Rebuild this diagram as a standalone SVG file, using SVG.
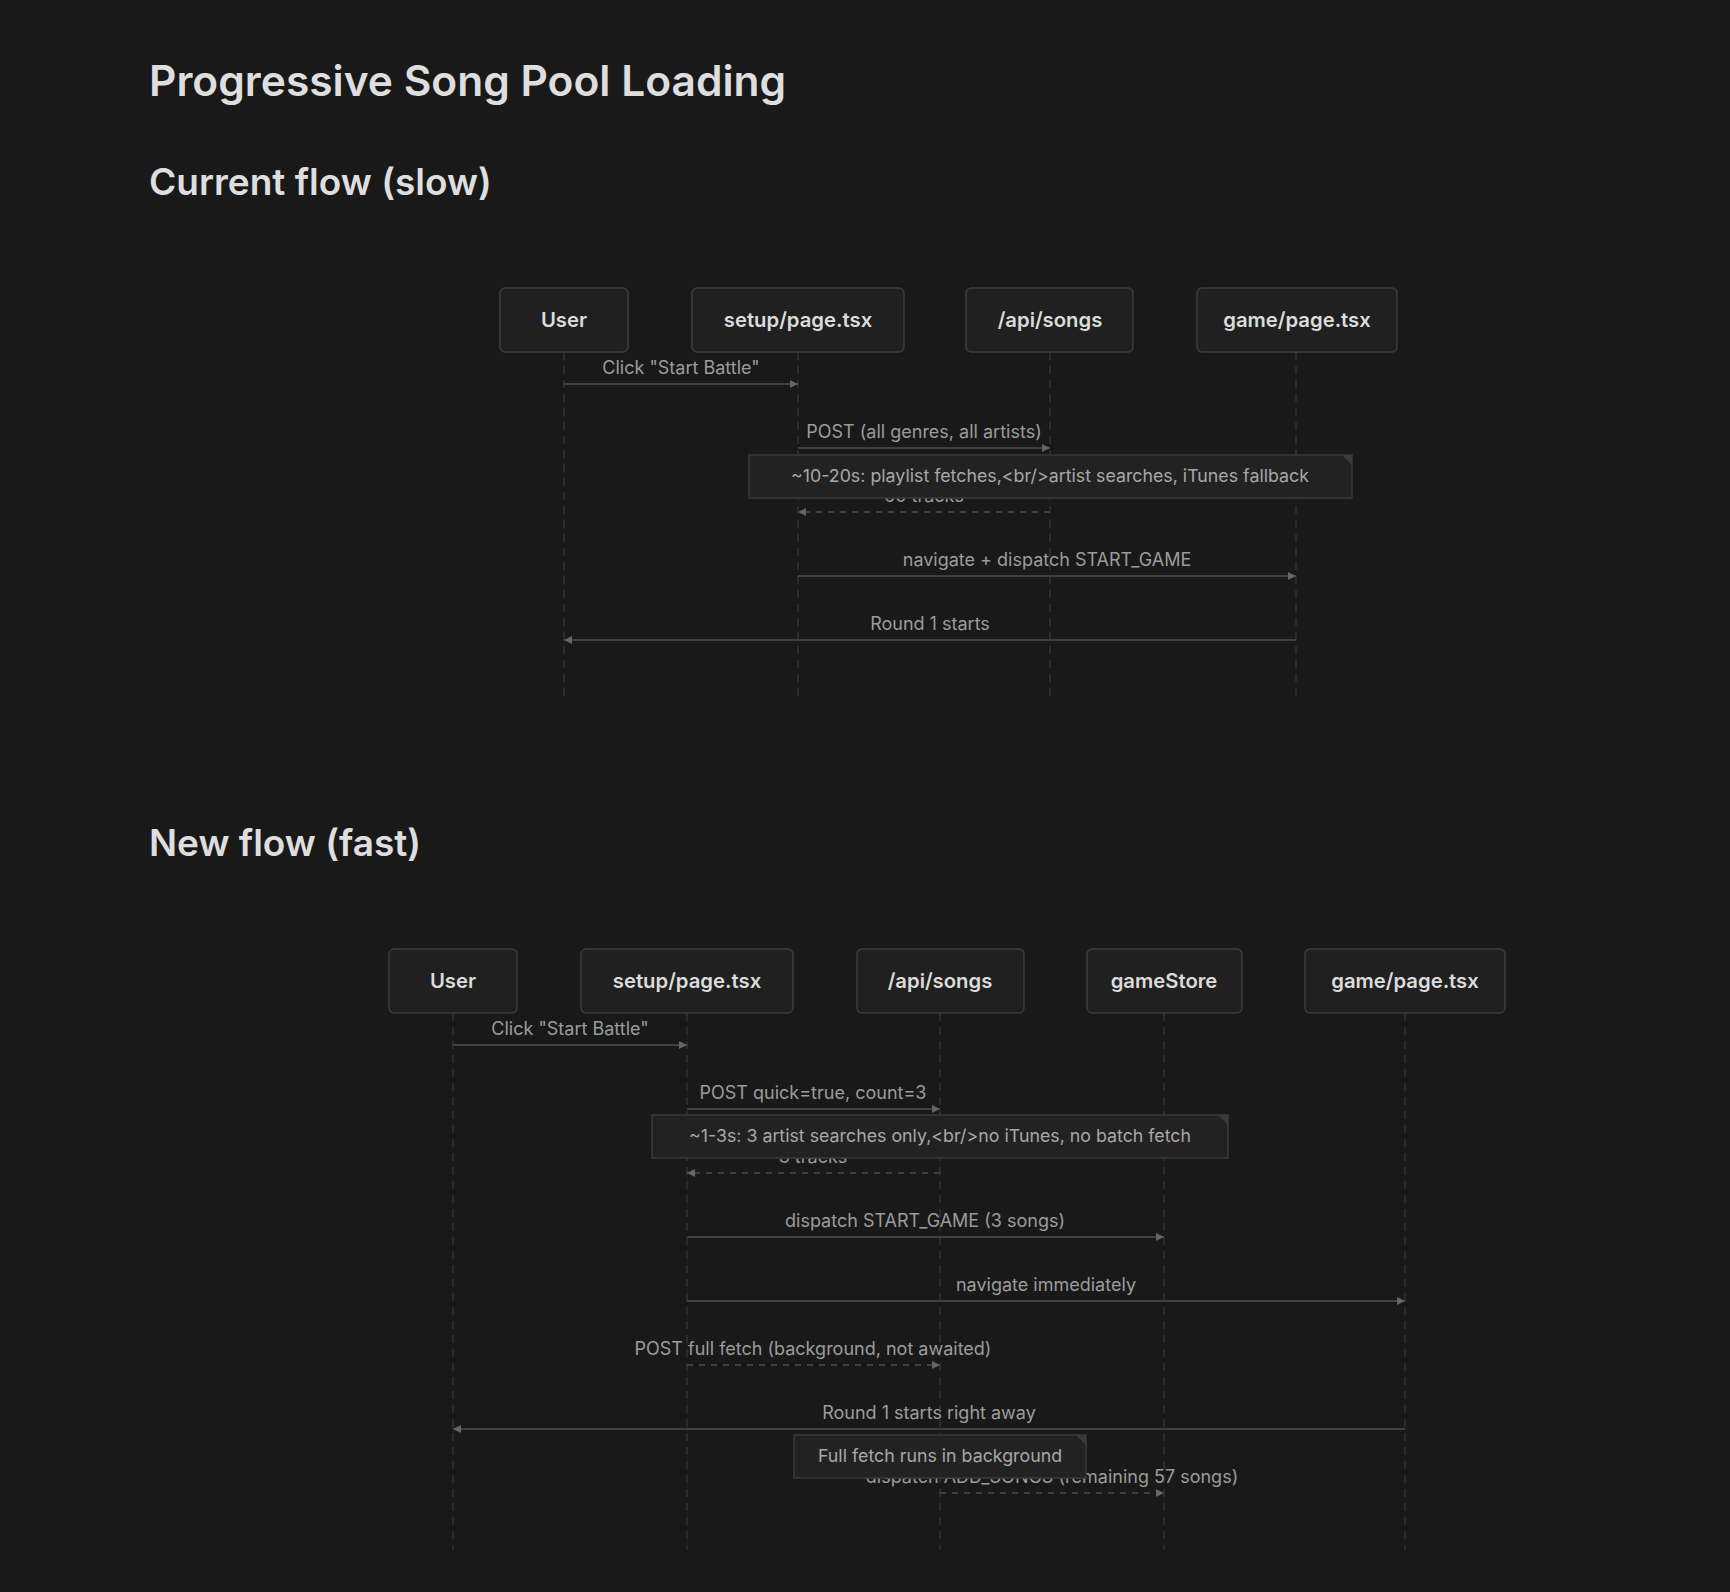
<svg xmlns="http://www.w3.org/2000/svg" width="1730" height="1592" viewBox="0 0 1730 1592">
<defs>
<style>
.bg{fill:#191919}
.h1{font-family:Inter,"Noto Sans",sans-serif;font-size:42.5px;font-weight:600;fill:#dedede}
.h2{font-family:Inter,"Noto Sans",sans-serif;font-size:37px;font-weight:600;fill:#dedede}
.box{fill:#202020;stroke:#3c3c3c;stroke-width:1.5}
.bt{font-family:Inter,"Noto Sans",sans-serif;font-size:20.3px;font-weight:600;fill:#dcdcdc;text-anchor:middle}
.life{stroke:#333;stroke-width:1.5;stroke-dasharray:8 6;fill:none}
.msg{stroke:#404040;stroke-width:2;fill:none}
.dash{stroke-dasharray:6 6}
.ml{font-family:Inter,"Noto Sans",sans-serif;font-size:18px;fill:#9c9c9c;text-anchor:middle}
.note{fill:#222;stroke:#3a3a3a;stroke-width:1.5}
.fold{fill:#3a3a3a}
.nt{font-family:Inter,"Noto Sans",sans-serif;font-size:17.8px;fill:#a8a8a8;text-anchor:middle}
</style>
<marker id="ah" viewBox="0 0 10 10" refX="10" refY="5" markerWidth="9" markerHeight="8" markerUnits="userSpaceOnUse" orient="auto">
<path d="M0,0 L10,5 L0,10 z" fill="#666"/>
</marker>
</defs>
<rect class="bg" x="0" y="0" width="1730" height="1592"/>
<text class="h1" x="149" y="96">Progressive Song Pool Loading</text>
<text class="h2" x="149" y="195">Current flow (slow)</text>
<text class="h2" x="149" y="856">New flow (fast)</text>

<g id="d1-lifelines">
<line class="life" x1="564" y1="352" x2="564" y2="697"/>
<line class="life" x1="798" y1="352" x2="798" y2="697"/>
<line class="life" x1="1050" y1="352" x2="1050" y2="697"/>
<line class="life" x1="1296" y1="352" x2="1296" y2="697"/>
</g>
<g id="d1-user"><rect class="box" x="500" y="288" width="128" height="64" rx="5"/><text class="bt" x="564" y="327">User</text></g>
<g id="d1-setup"><rect class="box" x="692" y="288" width="212" height="64" rx="5"/><text class="bt" x="798" y="327">setup/page.tsx</text></g>
<g id="d1-api"><rect class="box" x="966" y="288" width="167" height="64" rx="5"/><text class="bt" x="1050" y="327">/api/songs</text></g>
<g id="d1-game"><rect class="box" x="1197" y="288" width="200" height="64" rx="5"/><text class="bt" x="1297" y="327">game/page.tsx</text></g>

<g id="d1-connectors">
<line class="msg" x1="564" y1="384" x2="798" y2="384" marker-end="url(#ah)"/>
<text class="ml" x="681" y="374">Click "Start Battle"</text>
<line class="msg" x1="798" y1="448" x2="1050" y2="448" marker-end="url(#ah)"/>
<text class="ml" x="924" y="438">POST (all genres, all artists)</text>
<line class="msg dash" x1="1050" y1="512" x2="798" y2="512" marker-end="url(#ah)"/>
<text class="ml" x="924" y="502">60 tracks</text>
<line class="msg" x1="798" y1="576" x2="1296" y2="576" marker-end="url(#ah)"/>
<text class="ml" x="1047" y="566">navigate + dispatch START_GAME</text>
<line class="msg" x1="1296" y1="640" x2="564" y2="640" marker-end="url(#ah)"/>
<text class="ml" x="930" y="630">Round 1 starts</text>
</g>
<g id="d1-note">
<rect class="note" x="749" y="455" width="603" height="43"/>
<path class="fold" d="M1342,455 L1352,465 L1352,455 z"/>
<text class="nt" x="1050" y="482">~10-20s: playlist fetches,&lt;br/&gt;artist searches, iTunes fallback</text>
</g>

<g id="d2-lifelines">
<line class="life" x1="453" y1="1013" x2="453" y2="1550"/>
<line class="life" x1="687" y1="1013" x2="687" y2="1550"/>
<line class="life" x1="940" y1="1013" x2="940" y2="1550"/>
<line class="life" x1="1164" y1="1013" x2="1164" y2="1550"/>
<line class="life" x1="1405" y1="1013" x2="1405" y2="1550"/>
</g>
<g id="d2-user"><rect class="box" x="389" y="949" width="128" height="64" rx="5"/><text class="bt" x="453" y="988">User</text></g>
<g id="d2-setup"><rect class="box" x="581" y="949" width="212" height="64" rx="5"/><text class="bt" x="687" y="988">setup/page.tsx</text></g>
<g id="d2-api"><rect class="box" x="857" y="949" width="167" height="64" rx="5"/><text class="bt" x="940" y="988">/api/songs</text></g>
<g id="d2-store"><rect class="box" x="1087" y="949" width="155" height="64" rx="5"/><text class="bt" x="1164" y="988">gameStore</text></g>
<g id="d2-game"><rect class="box" x="1305" y="949" width="200" height="64" rx="5"/><text class="bt" x="1405" y="988">game/page.tsx</text></g>

<g id="d2-connectors">
<line class="msg" x1="453" y1="1045" x2="687" y2="1045" marker-end="url(#ah)"/>
<text class="ml" x="570" y="1035">Click "Start Battle"</text>
<line class="msg" x1="687" y1="1109" x2="940" y2="1109" marker-end="url(#ah)"/>
<text class="ml" x="813" y="1099">POST quick=true, count=3</text>
<line class="msg dash" x1="940" y1="1173" x2="687" y2="1173" marker-end="url(#ah)"/>
<text class="ml" x="813" y="1163">3 tracks</text>
<line class="msg" x1="687" y1="1237" x2="1164" y2="1237" marker-end="url(#ah)"/>
<text class="ml" x="925" y="1227">dispatch START_GAME (3 songs)</text>
<line class="msg" x1="687" y1="1301" x2="1405" y2="1301" marker-end="url(#ah)"/>
<text class="ml" x="1046" y="1291">navigate immediately</text>
<line class="msg dash" x1="687" y1="1365" x2="940" y2="1365" marker-end="url(#ah)"/>
<text class="ml" x="813" y="1355">POST full fetch (background, not awaited)</text>
<line class="msg" x1="1405" y1="1429" x2="453" y2="1429" marker-end="url(#ah)"/>
<text class="ml" x="929" y="1419">Round 1 starts right away</text>
<line class="msg dash" x1="940" y1="1493" x2="1164" y2="1493" marker-end="url(#ah)"/>
<text class="ml" x="1052" y="1483">dispatch ADD_SONGS (remaining 57 songs)</text>
</g>
<g id="d2-note1">
<rect class="note" x="652" y="1115" width="576" height="43"/>
<path class="fold" d="M1218,1115 L1228,1125 L1228,1115 z"/>
<text class="nt" x="940" y="1142">~1-3s: 3 artist searches only,&lt;br/&gt;no iTunes, no batch fetch</text>
</g>
<g id="d2-note2">
<rect class="note" x="794" y="1435" width="292" height="43"/>
<path class="fold" d="M1076,1435 L1086,1445 L1086,1435 z"/>
<text class="nt" x="940" y="1462">Full fetch runs in background</text>
</g>
</svg>
